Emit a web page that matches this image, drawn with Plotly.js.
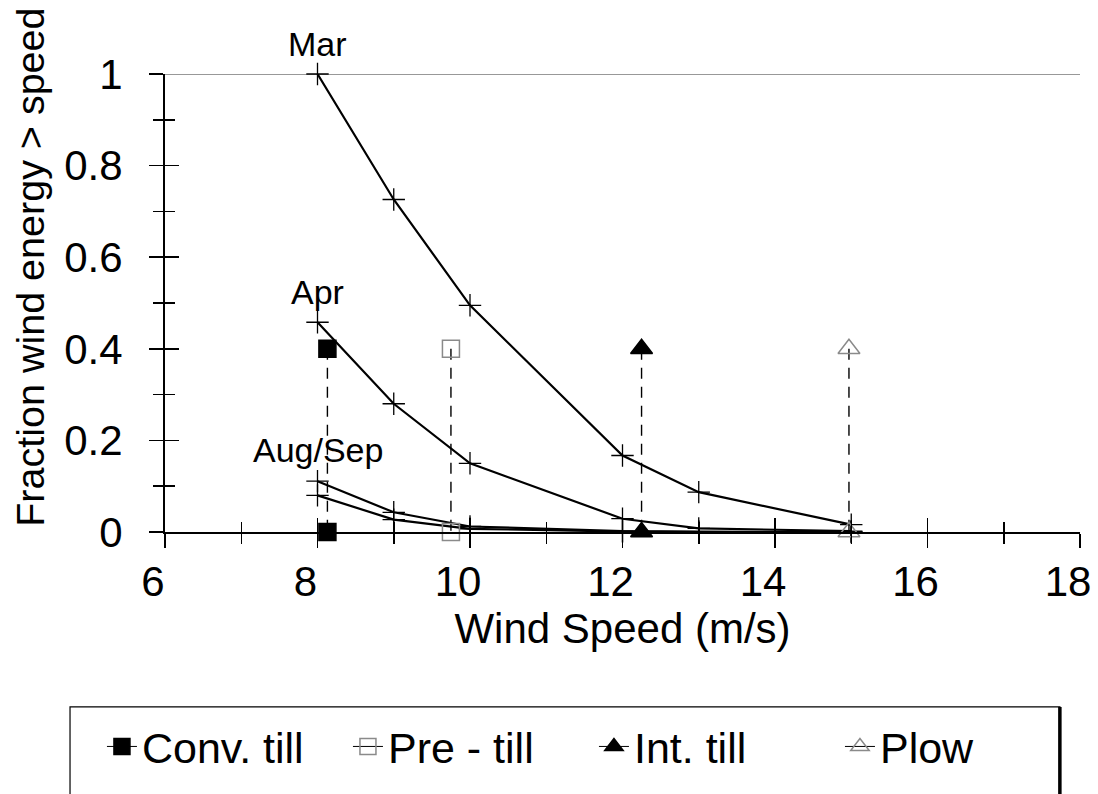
<!DOCTYPE html>
<html>
<head>
<meta charset="utf-8">
<script src="https://cdn.plot.ly/plotly-3.0.1.min.js"></script>
<style>
  html, body { margin: 0; padding: 0; background: #fff; }
  #chart { width: 1098px; height: 794px; }
</style>
</head>
<body>
<div id="chart"></div>
<script>
// ---- Data ----
const windSpeed = [8, 9, 10, 12, 13, 15];
const marFraction = [1.0, 0.726, 0.495, 0.167, 0.087, 0.016];
const aprFraction = [0.458, 0.28, 0.15, 0.029, 0.008, 0.002];
const augFraction = [0.111, 0.043, 0.012, 0.002, 0.001, 0.0];
const sepFraction = [0.08, 0.027, 0.007, 0.001, 0.0, 0.0];

const tillNames = ['Conv. till', 'Pre - till', 'Int. till', 'Plow'];
const tillSpeed = [8.13, 9.75, 12.25, 14.97];
const tillMarkerLevels = [0.4, 0];

const curveLabels = ['Mar', 'Apr', 'Aug/Sep'];
const curveLabelX = [8.0, 8.0, 8.0];
const curveLabelY = [1.066, 0.523, 0.178];

const xTickVals = [6, 8, 10, 12, 14, 16, 18];
const xTickText = ['6', '8', '10', '12', '14', '16', '18'];
const yTickVals = [0, 0.2, 0.4, 0.6, 0.8, 1];
const yTickText = ['0', '0.2', '0.4', '0.6', '0.8', '1'];

const xTitle = 'Wind Speed (m/s)';
const yTitle = 'Fraction wind energy > speed';

// ---- Styles ----
const FONT = 'Liberation Sans, Arial, Helvetica, sans-serif';
const tillStyles = [
  {symbol: 'square', color: '#000', lineColor: '#000', size: 17},
  {symbol: 'square-open', color: '#8a8a8a', lineColor: '#8a8a8a', size: 17},
  {symbol: 'triangle-up', color: '#000', lineColor: '#000', size: 19},
  {symbol: 'triangle-up-open', color: '#8a8a8a', lineColor: '#8a8a8a', size: 19}
];

const traces = [];

// Month curves
[marFraction, aprFraction, augFraction, sepFraction].forEach(ys => {
  traces.push({
    type: 'scatter', mode: 'lines+markers',
    x: windSpeed, y: ys,
    line: {color: '#000', width: 2.2},
    marker: {symbol: 'cross-thin', size: 16, line: {color: '#000', width: 1.3}},
    showlegend: false, hoverinfo: 'x+y', cliponaxis: false
  });
});

// Dashed connectors for tillage thresholds
tillSpeed.forEach((xv, i) => {
  traces.push({
    type: 'scatter', mode: 'lines',
    x: [xv, xv], y: tillMarkerLevels,
    line: {color: '#000', width: 1.4, dash: '11px,8px'},
    showlegend: false, hoverinfo: 'skip', cliponaxis: false
  });
});

// Tillage markers (legend entries)
tillSpeed.forEach((xv, i) => {
  const st = tillStyles[i];
  traces.push({
    type: 'scatter', mode: 'lines+markers',
    name: tillNames[i],
    x: [xv, xv, xv], y: [tillMarkerLevels[0], null, tillMarkerLevels[1]],
    connectgaps: false,
    line: {color: '#000', width: 1},
    marker: {symbol: st.symbol, size: st.size, color: st.color,
             line: {color: st.lineColor, width: 1.5}},
    cliponaxis: false
  });
});

// empty trace to materialise the overlay axes (inside ticks)
traces.push({type: 'scatter', mode: 'markers', x: [], y: [], xaxis: 'x2', yaxis: 'y2',
             showlegend: false, hoverinfo: 'skip'});

// y range is [0,1] so paper y equals data y here
const annotations = curveLabels.map((t, i) => ({
  text: t, x: curveLabelX[i], y: curveLabelY[i], xref: 'x', yref: 'paper',
  showarrow: false, font: {family: FONT, size: 34, color: '#000'},
  xanchor: 'center', yanchor: 'middle'
}));
annotations.push({
  text: yTitle, textangle: -90, xref: 'paper', yref: 'paper',
  x: -0.147, y: 0.578, showarrow: false, xanchor: 'center', yanchor: 'middle',
  font: {family: FONT, size: 39.5, color: '#000'}
});

const layout = {
  width: 1098, height: 794,
  margin: {l: 165, r: 18, t: 74, b: 262, pad: 0},
  paper_bgcolor: '#fff', plot_bgcolor: '#fff',
  font: {family: FONT, color: '#000'},
  showlegend: true,
  xaxis: {
    range: [6, 18], tickmode: 'array', tickvals: xTickVals, ticktext: xTickText,
    ticks: 'outside', ticklen: 14, tickwidth: 1.5, tickcolor: '#000',
    minor: {dtick: 1, tick0: 6, ticks: 'outside', ticklen: 10, tickwidth: 1.5, tickcolor: '#000', showgrid: false},
    showline: true, linecolor: '#000', linewidth: 1.5,
    showgrid: false, zeroline: false, anchor: 'y',
    tickfont: {family: FONT, size: 42, color: '#000'},
    ticklabelshift: -12, ticklabelstandoff: -2,
    title: {text: xTitle, font: {family: FONT, size: 42, color: '#000'}, standoff: 6}
  },
  yaxis: {
    range: [0, 1], tickmode: 'array', tickvals: yTickVals, ticktext: yTickText,
    ticks: 'outside', ticklen: 14, tickwidth: 1.5, tickcolor: '#000',
    minor: {dtick: 0.1, tick0: 0, ticks: 'outside', ticklen: 10, tickwidth: 1.5, tickcolor: '#000', showgrid: false},
    showline: true, linecolor: '#000', linewidth: 2,
    showgrid: false, zeroline: false, anchor: 'x',
    tickfont: {family: FONT, size: 42, color: '#000'},
    ticklabelstandoff: 18
  },
  xaxis2: {
    overlaying: 'x', anchor: 'y2', side: 'bottom', range: [6, 18],
    tickmode: 'array', tickvals: xTickVals,
    ticks: 'inside', ticklen: 14, tickwidth: 1.5, tickcolor: '#000',
    minor: {dtick: 1, tick0: 6, ticks: 'inside', ticklen: 10, tickwidth: 1.5, tickcolor: '#000', showgrid: false},
    showticklabels: false, showline: false, showgrid: false, zeroline: false
  },
  yaxis2: {
    overlaying: 'y', anchor: 'x2', side: 'left', range: [0, 1],
    tickmode: 'array', tickvals: yTickVals,
    ticks: 'inside', ticklen: 14, tickwidth: 1.5, tickcolor: '#000',
    minor: {dtick: 0.1, tick0: 0, ticks: 'inside', ticklen: 10, tickwidth: 1.5, tickcolor: '#000', showgrid: false},
    showticklabels: false, showline: false, showgrid: false, zeroline: false
  },
  shapes: [
    // top border of the plotting area at y = 1
    {type: 'line', xref: 'paper', yref: 'y', x0: -0.016, x1: 1, y0: 1, y1: 1,
     line: {color: '#333', width: 1}, layer: 'below'},
    // legend frame (runs off the bottom of the page like the scan)
    {type: 'rect', xref: 'paper', yref: 'paper', x0: -0.1038, x1: 0.978, y0: -0.382, y1: -0.62,
     line: {color: '#000', width: 1.2}, fillcolor: 'rgba(0,0,0,0)', layer: 'below'},
    // thick right edge of the legend box
    {type: 'line', xref: 'paper', yref: 'paper', x0: 0.978, x1: 0.978, y0: -0.382, y1: -0.62,
     line: {color: '#000', width: 3.5}}
  ],
  legend: {
    orientation: 'h', x: -0.0689, xanchor: 'left', y: -0.393, yanchor: 'top',
    bgcolor: 'rgba(0,0,0,0)', borderwidth: 0,
    font: {family: FONT, size: 43, color: '#000'},
    entrywidth: 201, entrywidthmode: 'pixels',
    itemsizing: 'trace', traceorder: 'normal', itemclick: false
  },
  annotations: annotations
};

Plotly.newPlot('chart', traces, layout, {displayModeBar: false, staticPlot: true});
</script>
</body>
</html>
